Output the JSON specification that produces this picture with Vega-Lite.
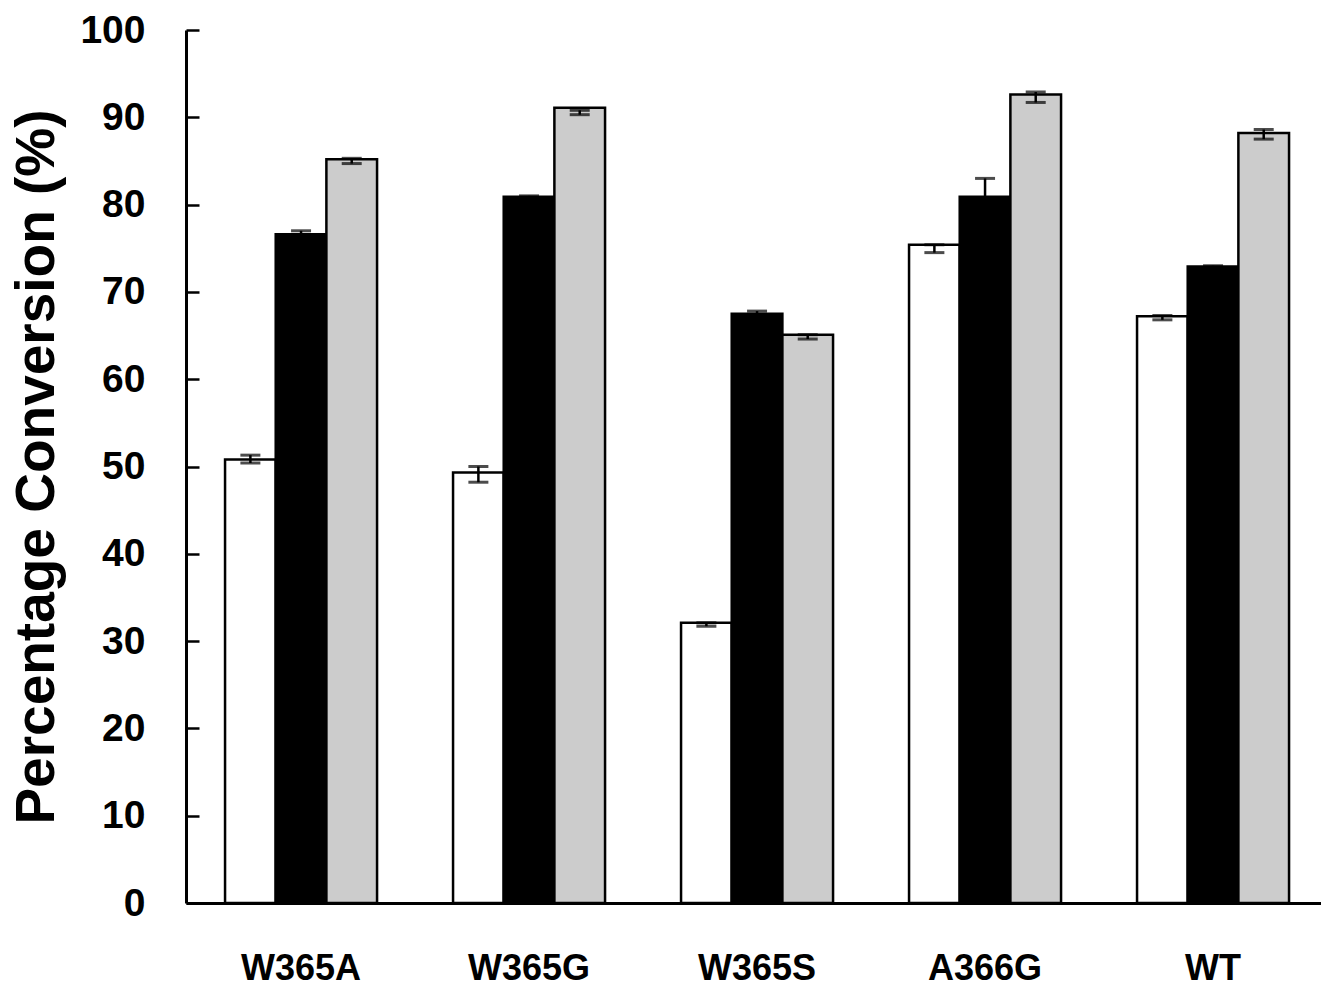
{
  "$schema": "https://vega.github.io/schema/vega-lite/v6.json",
  "width": 1135,
  "height": 873,
  "autosize": {"type": "none"},
  "padding": {"left": 186, "top": 30, "right": 0, "bottom": 85},
  "background": "white",
  "config": {"view": {"stroke": null}, "font": "Liberation Sans"},
  "data": {
    "values": [
      {"mutant": "W365A", "condition": "1", "value": 50.8, "lo": 50.4, "hi": 51.3},
      {"mutant": "W365A", "condition": "2", "value": 76.6, "lo": 76.4, "hi": 77.0},
      {"mutant": "W365A", "condition": "3", "value": 85.2, "lo": 84.7, "hi": 85.3},
      {"mutant": "W365G", "condition": "1", "value": 49.3, "lo": 48.2, "hi": 50.0},
      {"mutant": "W365G", "condition": "2", "value": 80.9, "lo": 80.8, "hi": 81.0},
      {"mutant": "W365G", "condition": "3", "value": 91.1, "lo": 90.3, "hi": 90.8},
      {"mutant": "W365S", "condition": "1", "value": 32.1, "lo": 31.7, "hi": 32.1},
      {"mutant": "W365S", "condition": "2", "value": 67.5, "lo": 67.3, "hi": 67.8},
      {"mutant": "W365S", "condition": "3", "value": 65.1, "lo": 64.6, "hi": 65.1},
      {"mutant": "A366G", "condition": "1", "value": 75.4, "lo": 74.5, "hi": 75.4},
      {"mutant": "A366G", "condition": "2", "value": 80.9, "lo": 78.8, "hi": 83.0},
      {"mutant": "A366G", "condition": "3", "value": 92.6, "lo": 91.7, "hi": 92.9},
      {"mutant": "WT", "condition": "1", "value": 67.2, "lo": 66.8, "hi": 67.3},
      {"mutant": "WT", "condition": "2", "value": 72.9, "lo": 72.8, "hi": 73.0},
      {"mutant": "WT", "condition": "3", "value": 88.2, "lo": 87.5, "hi": 88.6}
    ]
  },
  "encoding": {
    "x": {
      "field": "mutant",
      "type": "nominal",
      "sort": ["W365A", "W365G", "W365S", "A366G", "WT"],
      "scale": {"paddingInner": 0.3333, "paddingOuter": 0.1557, "align": 0.55},
      "axis": {
        "title": null,
        "labelAngle": 0,
        "labelFontSize": 36,
        "labelFontWeight": "bold",
        "labelColor": "black",
        "labelPadding": 48,
        "ticks": false,
        "domainColor": "black",
        "domainWidth": 3
      }
    },
    "xOffset": {
      "field": "condition",
      "type": "nominal",
      "sort": ["1", "2", "3"],
      "scale": {"paddingInner": 0, "paddingOuter": 0}
    }
  },
  "layer": [
    {
      "mark": {"type": "bar", "stroke": "black", "strokeWidth": 2.5},
      "encoding": {
        "y": {
          "field": "value",
          "type": "quantitative",
          "scale": {"domain": [0, 100], "nice": false},
          "axis": {
            "title": "Percentage Conversion (%)",
            "titleFontSize": 55,
            "titleFontWeight": "bold",
            "titleColor": "black",
            "titlePadding": 14,
            "values": [0, 10, 20, 30, 40, 50, 60, 70, 80, 90, 100],
            "labelFontSize": 39,
            "labelFontWeight": "bold",
            "labelColor": "black",
            "labelPadding": 54,
            "tickSize": -13,
            "tickWidth": 2.5,
            "tickColor": "black",
            "domainColor": "black",
            "domainWidth": 3,
            "grid": false
          }
        },
        "fill": {
          "field": "condition",
          "type": "nominal",
          "scale": {"domain": ["1", "2", "3"], "range": ["#ffffff", "#000000", "#cccccc"]},
          "legend": null
        }
      }
    },
    {
      "mark": {"type": "rule", "color": "black", "strokeWidth": 2.5},
      "encoding": {
        "y": {"field": "lo", "type": "quantitative"},
        "y2": {"field": "hi"}
      }
    },
    {
      "mark": {"type": "tick", "color": "black", "size": 20, "thickness": 3},
      "encoding": {"y": {"field": "lo", "type": "quantitative"}}
    },
    {
      "mark": {"type": "tick", "color": "black", "size": 20, "thickness": 3},
      "encoding": {"y": {"field": "hi", "type": "quantitative"}}
    }
  ]
}
